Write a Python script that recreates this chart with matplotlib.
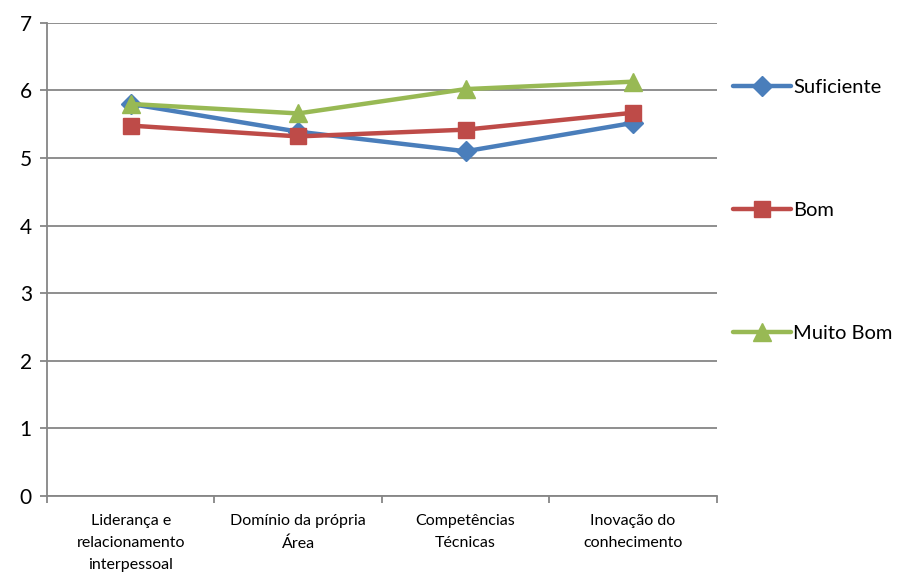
import matplotlib
matplotlib.use("Agg")
import matplotlib.pyplot as plt
from matplotlib.ticker import MultipleLocator, FixedLocator

plt.rcParams['font.family'] = ['Lato', 'DejaVu Sans']

categorias = ["Liderança e\nrelacionamento\ninterpessoal",
              "Domínio da própria\nÁrea",
              "Competências\nTécnicas",
              "Inovação do\nconhecimento"]
suficiente = [5.80, 5.39, 5.10, 5.52]
bom = [5.48, 5.32, 5.42, 5.67]
muito_bom = [5.80, 5.66, 6.02, 6.13]

series = [
    ("Suficiente", suficiente, "#4A7EBB", "D", 10),
    ("Bom", bom, "#BE4B48", "s", 12),
    ("Muito Bom", muito_bom, "#98B954", "^", 13),
]

fig = plt.figure(figsize=(9.05, 5.72), dpi=100)
ax = fig.add_axes([0.052, 0.133, 0.74, 0.827])

x = list(range(len(categorias)))
for nome, vals, cor, mk, ms in series:
    ax.plot(x, vals, color=cor, lw=3.2, marker=mk, markersize=ms,
            markeredgecolor=cor, label=nome, solid_capstyle='round')

ax.set_xlim(-0.5, len(categorias) - 0.5)
ax.set_ylim(0, 7)
ax.yaxis.set_major_locator(MultipleLocator(1))
ax.grid(axis='y', color='#868686', lw=1.3)
ax.set_axisbelow(True)

ax.set_xticks(x)
ax.set_xticklabels(categorias, fontsize=11.5, linespacing=1.75)
ax.xaxis.set_minor_locator(FixedLocator([i - 0.5 for i in range(len(categorias) + 1)]))
ax.tick_params(axis='x', which='major', length=0, pad=13)
ax.tick_params(axis='x', which='minor', length=5, color='#868686', width=1.3)
ax.tick_params(axis='y', length=5, color='#868686', width=1.3, labelsize=15, pad=6)

for s in ['top', 'right']:
    ax.spines[s].set_visible(False)
for s in ['left', 'bottom']:
    ax.spines[s].set_color('#868686')
    ax.spines[s].set_linewidth(1.3)

fig.legend(loc='upper left', bbox_to_anchor=(0.81, 0.862), frameon=False,
           fontsize=14.5, handlelength=2.9, handletextpad=0.1,
           labelspacing=5.25, borderaxespad=0, borderpad=0)

fig.savefig("out.png", dpi=100)
